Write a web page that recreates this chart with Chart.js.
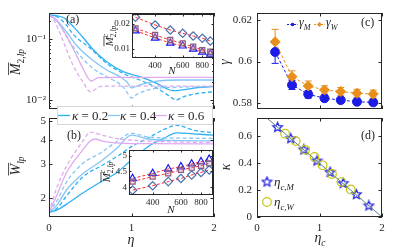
<!DOCTYPE html>
<html>
<head>
<meta charset="utf-8">
<script src="https://cdn.jsdelivr.net/npm/chart.js@4.4.1/dist/chart.umd.min.js"></script>
<style>
html,body{margin:0;padding:0;background:#fff}
#wrap{position:relative;width:415px;height:249px;overflow:hidden;background:#fff}
#wrap canvas{position:absolute;left:0;top:0}
</style>
</head>
<body>
<div id="wrap"></div>
<script>

/* ---------------- DATA ---------------- */

const kappas = ["0.2","0.4","0.6"]

// (a) M2 vs eta, solid / dashed per kappa
const a02sEta = [0,0.1,0.19,0.3,0.42,0.54,0.7,0.9,1.1,1.3,1.5,1.6,1.8,2.0]
const a02sVal = [0.254,0.245,0.224,0.16,0.105,0.067,0.043,0.0294,0.0243,0.019,0.0143,0.0146,0.016,0.0168]
const a02dEta = [0,0.1,0.2,0.3,0.5,0.7,0.94,1.1,1.3,1.45,1.54,1.62,1.8,2.0]
const a02dVal = [0.254,0.235,0.18,0.119,0.0716,0.0404,0.0259,0.0214,0.016,0.0118,0.01,0.0112,0.0128,0.0137]
const a04sEta = [0,0.09,0.21,0.33,0.5,0.7,0.86,0.95,1.0,1.1,1.3,1.6,2.0]
const a04sVal = [0.254,0.21,0.135,0.081,0.0489,0.0313,0.0243,0.0195,0.0158,0.0178,0.0205,0.0214,0.0214]
const a04dEta = [0,0.06,0.13,0.25,0.37,0.53,0.7,0.9,0.96,1.0,1.08,1.3,1.6,2.0]
const a04dVal = [0.254,0.225,0.174,0.092,0.0554,0.0334,0.0243,0.0163,0.0125,0.0108,0.0128,0.0155,0.0163,0.0166]
const a06sEta = [0,0.07,0.17,0.29,0.41,0.47,0.51,0.6,0.8,1.2,2.0]
const a06sVal = [0.254,0.224,0.144,0.0716,0.0334,0.0235,0.0206,0.0235,0.0237,0.0237,0.0237]
const a06dEta = [0,0.05,0.09,0.19,0.29,0.41,0.5,0.62,0.8,1.2,2.0]
const a06dVal = [0.254,0.22,0.174,0.081,0.0379,0.0201,0.0137,0.0166,0.017,0.017,0.017]

// (b) W vs eta
const b02sEta = [0,0.1,0.21,0.42,0.62,0.82,0.98,1.22,1.4,1.55,1.75,2.0]
const b02sVal = [1.69,1.74,1.86,2.14,2.42,2.71,3.1,3.75,4.1,4.36,4.3,4.24]
const b02dEta = [0,0.1,0.21,0.42,0.62,0.82,1.0,1.2,1.4,1.55,1.75,2.0]
const b02dVal = [1.69,1.78,2.05,2.6,2.92,3.28,3.7,4.1,4.55,4.77,4.5,4.36]
const b04sEta = [0,0.1,0.21,0.42,0.62,0.82,1.0,1.2,1.5,2.0]
const b04sVal = [1.69,1.85,2.2,2.7,3.09,3.62,4.24,4.05,3.98,3.96]
const b04dEta = [0,0.1,0.21,0.42,0.62,0.82,1.0,1.2,1.5,2.0]
const b04dVal = [1.69,1.95,2.42,3.05,3.42,3.92,4.33,4.15,4.1,4.08]
const b06sEta = [0,0.1,0.21,0.42,0.5,0.56,0.65,0.8,1.2,2.0]
const b06sVal = [1.69,2.1,2.7,3.6,3.95,4.05,3.95,3.87,3.83,3.82]
const b06dEta = [0,0.1,0.21,0.42,0.5,0.6,0.8,1.2,2.0]
const b06dVal = [1.69,2.3,2.92,4.0,4.4,4.3,4.08,3.95,3.88]

// insets: N dependence
const sizesN = [300,400,500,600,700,800,900]
const inAdiam = [0.0241,0.01946,0.01694,0.01546,0.01434,0.01346,0.01248]
const inAsq = [0.01774,0.01475,0.01284,0.01171,0.01066,0.00973,0.00928]
const inAtri = [0.0166,0.0136,0.0118,0.0109,0.01,0.0092,0.0087]
const inBtri = [4.28,4.44,4.58,4.65,4.74,4.81,4.89]
const inBsq = [4.18,4.34,4.44,4.55,4.62,4.68,4.76]
const inBdiam = [3.91,4.05,4.18,4.28,4.39,4.47,4.55]

// (c) exponents
const cEta = [0.29,0.56,0.82,1.08,1.34,1.6,1.86]
const gammaM = [0.6046,0.5887,0.5842,0.5823,0.5814,0.5806,0.5803]
const gammaMErr = [0.0055,0.0022,0.0018,0.0015,0.0013,0.0012,0.0012]
const gammaW = [0.6095,0.5927,0.5882,0.5863,0.5855,0.5847,0.5843]
const gammaWErr = [0.006,0.0028,0.0024,0.002,0.002,0.0019,0.0019]

// (d) critical points
const starEta = [0.33,0.54,0.75,0.96,1.17,1.38,1.59,1.79]
const starKappa = [0.667,0.583,0.5,0.417,0.333,0.25,0.167,0.083]
const circEta = [0.45,0.62,0.77,0.92,1.05,1.2,1.35,1.5]
const circKappa = [0.62,0.565,0.5,0.447,0.385,0.32,0.26,0.205]
const lineEta = [0,2]
const lineKappa = [0.8,0]

/* ---------------- HELPERS ---------------- */

const W = 415, H = 249
const SERIF = '"Liberation Serif", "DejaVu Serif", serif'
const INK = "#262626"
const C02 = "#2db1f2", C04 = "#86c5f7", C06 = "#dfaaf0"
const wrap = document.getElementById("wrap")

const pts = (xs, ys) => xs.map((x, i) => ({x: x, y: ys[i]}))

function ax(o){
const major = o.major, minor = o.minor || []
return {
type: o.type || "linear", min: o.min, max: o.max,
grid: {display: false, drawTicks: false}, border: {display: false},
title: {display: false},
afterBuildTicks: s => {
s.ticks = major.map(v => ({value: v})).concat(minor.map(v => ({value: v, minor: true})))
s.ticks.sort((p, q) => p.value - q.value)
},
ticks: {
display: o.labels !== false, autoSkip: false, maxRotation: 0, padding: o.pad || 3,
color: INK, font: {family: SERIF, size: o.size || 11},
callback: v => { const i = major.indexOf(v); return i < 0 ? "" : (o.fmt ? o.fmt[i] : String(v)) }
}
}
}

function decades(lo, hi){
const out = []
for(let e = -4; e < 4; e++) for(let m = 1; m < 10; m++){
const v = +(m * Math.pow(10, e)).toPrecision(3)
if(v >= lo && v <= hi) out.push(v)
}
return out
}

function frame(c, len){
const {ctx, chartArea: a} = c
const x = c.scales.x, y = c.scales.y
ctx.save()
ctx.strokeStyle = INK
ctx.lineWidth = 1
ctx.beginPath()
x.ticks.forEach(t => {
const p = Math.round(x.getPixelForValue(t.value)) + 0.5
const l = t.minor ? len * 0.55 : len
ctx.moveTo(p, a.bottom); ctx.lineTo(p, a.bottom - l)
ctx.moveTo(p, a.top); ctx.lineTo(p, a.top + l)
})
y.ticks.forEach(t => {
const p = Math.round(y.getPixelForValue(t.value)) + 0.5
const l = t.minor ? len * 0.55 : len
ctx.moveTo(a.left, p); ctx.lineTo(a.left + l, p)
ctx.moveTo(a.right, p); ctx.lineTo(a.right - l, p)
})
ctx.stroke()
ctx.strokeRect(Math.round(a.left) + 0.5, Math.round(a.top) + 0.5, Math.round(a.right - a.left) - 1, Math.round(a.bottom - a.top) - 1)
ctx.restore()
}

// math-ish text: parts = [[text, kind]], kind: i italic, r roman, s sub, u sup, k no advance
function mt(ctx, x, y, parts, size, align, bar){
const f = k => (k.includes("i") ? "italic " : "") + (k.includes("s") || k.includes("u") ? size * 0.68 : size).toFixed(1) + "px " + SERIF
let w = 0
parts.forEach(([t, k]) => { ctx.font = f(k); if(!k.includes("k")) w += ctx.measureText(t).width })
let cx = align === "center" ? x - w / 2 : align === "right" ? x - w : x
ctx.textAlign = "left"
ctx.textBaseline = "alphabetic"
let barEnd = null
const x0 = cx
parts.forEach(([t, k], i) => {
ctx.font = f(k)
const dy = k.includes("s") ? size * 0.3 : k.includes("u") ? -size * 0.42 : 0
ctx.fillText(t, cx, y + dy)
if(!k.includes("k")) cx += ctx.measureText(t).width
if(i === 0) barEnd = cx
})
if(bar){
ctx.save(); ctx.strokeStyle = ctx.fillStyle; ctx.lineWidth = 0.8
ctx.beginPath(); ctx.moveTo(x0, y - size * 0.82); ctx.lineTo(barEnd + 1, y - size * 0.82); ctx.stroke()
ctx.restore()
}
}

function rot(ctx, x, y, fn){
ctx.save(); ctx.translate(x, y); ctx.rotate(-Math.PI / 2); fn(); ctx.restore()
}

function starImg(r, col){
const s = Math.ceil(2 * r + 3)
const cv = document.createElement("canvas")
cv.width = cv.height = s
const g = cv.getContext("2d")
g.strokeStyle = col; g.lineWidth = 1.2
g.beginPath()
for(let k = 0; k < 10; k++){
const a = -Math.PI / 2 + k * Math.PI / 5
const rr = k % 2 ? r * 0.45 : r
g.lineTo(s / 2 + rr * Math.cos(a), s / 2 + rr * Math.sin(a))
}
g.closePath(); g.stroke()
return cv
}

function panel(box, xs, ys, datasets, draw, before, len){
const cv = document.createElement("canvas")
cv.width = W; cv.height = H
wrap.appendChild(cv)
xs.afterFit = s => { s.height = H - box.b }
ys.afterFit = s => { s.width = box.l }
return new Chart(cv, {
type: "scatter",
data: {datasets: datasets},
options: {
responsive: false, animation: false, devicePixelRatio: 1,
layout: {padding: {left: 0, top: box.t, right: W - box.r, bottom: 0}},
plugins: {legend: {display: false}, tooltip: {enabled: false}},
scales: {x: xs, y: ys}
},
plugins: [{
id: "box",
beforeDatasetsDraw: c => { if(before) before(c.ctx, c) },
afterDraw: c => { frame(c, len || 3.5); if(draw){ c.ctx.save(); c.ctx.fillStyle = INK; draw(c.ctx, c); c.ctx.restore() } }
}]
})
}

const curve = (xs, ys, col, dash) => ({
data: pts(xs, ys), showLine: true, borderColor: col, borderWidth: 1.3,
borderDash: dash ? [4, 2.5] : [], pointRadius: 0, cubicInterpolationMode: "monotone"
})

const marks = (xs, ys, style, col, fillCol, r) => ({
data: pts(xs, ys), showLine: true, borderColor: "#ff2a2a", borderWidth: 1, borderDash: [3, 2],
pointStyle: style, pointRadius: r, pointBorderColor: col, pointBackgroundColor: fillCol, pointBorderWidth: 1.2
})

/* ---------------- PANEL (a) ---------------- */

panel({l: 49, r: 214, t: 13, b: 109},
ax({min: 0, max: 2, major: [0, 1, 2], labels: false}),
ax({type: "logarithmic", min: 0.0071, max: 0.274, major: [0.01, 0.1], fmt: ["10\u207B\u00B2", "10\u207B\u00B9"],
minor: decades(0.0071, 0.274).filter(v => v !== 0.01 && v !== 0.1)}),
[
curve(a06dEta, a06dVal, C06, true), curve(a06sEta, a06sVal, C06, false),
curve(a04dEta, a04dVal, C04, true), curve(a04sEta, a04sVal, C04, false),
curve(a02dEta, a02dVal, C02, true), curve(a02sEta, a02sVal, C02, false)
],
ctx => {
mt(ctx, 66, 23, [["(a)", "r"]], 12)
rot(ctx, 20, 62, () => mt(ctx, 0, 0, [["M", "i"], ["2,", "rs"], ["lp", "is"]], 14, "center", true))
})

/* ---------------- PANEL (b) ---------------- */

panel({l: 49, r: 214, t: 118, b: 217},
ax({min: 0, max: 2, major: [0, 1, 2], pad: 5}),
ax({type: "logarithmic", min: 1.62, max: 5.2, major: [2, 3, 4, 5]}),
[
curve(b06dEta, b06dVal, C06, true), curve(b06sEta, b06sVal, C06, false),
curve(b04dEta, b04dVal, C04, true), curve(b04sEta, b04sVal, C04, false),
curve(b02dEta, b02dVal, C02, true), curve(b02sEta, b02sVal, C02, false)
],
ctx => {
mt(ctx, 67, 139, [["(b)", "r"]], 12)
rot(ctx, 20, 166, () => mt(ctx, 0, 0, [["W", "i"], ["lp", "is"]], 14, "center", true))
mt(ctx, 131, 244, [["\u03B7", "i"]], 14, "center")
// legend of (a) sits across the gap
ctx.fillStyle = "#fff"
ctx.fillRect(57, 106, 155, 18)
ctx.strokeStyle = "#d6d6d6"; ctx.lineWidth = 1
ctx.strokeRect(57.5, 106.5, 155, 18)
const lx = [58, 108, 155], tx = [72, 120, 168], cols = [C02, C04, C06]
kappas.forEach((k, i) => {
ctx.strokeStyle = cols[i]; ctx.lineWidth = 1.3
ctx.beginPath(); ctx.moveTo(lx[i], 115.5); ctx.lineTo(lx[i] + 12, 115.5); ctx.stroke()
ctx.fillStyle = INK
mt(ctx, tx[i], 119.5, [["\u03BA", "i"], [" = " + k, "r"]], 13)
})
})

/* ---------------- PANEL (c) ---------------- */

const BLUE = "#1c1ce6", ORANGE = "#e98e1a"

function errBars(ctx, c){
const x = c.scales.x, y = c.scales.y
;[[gammaW, gammaWErr, ORANGE], [gammaM, gammaMErr, BLUE]].forEach(([vals, errs, col]) => {
ctx.save(); ctx.strokeStyle = col; ctx.lineWidth = 1
ctx.beginPath()
vals.forEach((v, i) => {
const px = x.getPixelForValue(cEta[i])
const p1 = y.getPixelForValue(v + errs[i]), p2 = y.getPixelForValue(v - errs[i])
ctx.moveTo(px, p1); ctx.lineTo(px, p2)
ctx.moveTo(px - 3.5, p1); ctx.lineTo(px + 3.5, p1)
ctx.moveTo(px - 3.5, p2); ctx.lineTo(px + 3.5, p2)
})
ctx.stroke(); ctx.restore()
})
}

panel({l: 257, r: 382, t: 13, b: 109},
ax({min: 0, max: 2, major: [0, 1, 2], labels: false}),
ax({min: 0.5771, max: 0.6234, major: [0.58, 0.6, 0.62], pad: 5}),
[
{data: pts(cEta, gammaW), showLine: true, borderColor: ORANGE, borderWidth: 1, borderDash: [3, 2],
pointStyle: "rectRot", pointRadius: 5, pointBackgroundColor: ORANGE, pointBorderColor: ORANGE},
{data: pts(cEta, gammaM), showLine: true, borderColor: BLUE, borderWidth: 1, borderDash: [3, 2],
pointStyle: "circle", pointRadius: 4.5, pointBackgroundColor: BLUE, pointBorderColor: BLUE}
],
ctx => {
mt(ctx, 361, 26, [["(c)", "r"]], 12)
rot(ctx, 229, 62, () => mt(ctx, 0, 0, [["\u03B3", "i"]], 14, "center"))
// legend
const items = [[287, BLUE, "M"], [314, ORANGE, "W"]]
items.forEach(([x0, col, sub]) => {
ctx.strokeStyle = col; ctx.fillStyle = col; ctx.lineWidth = 1
ctx.setLineDash([2, 1.5])
ctx.beginPath(); ctx.moveTo(x0, 24.5); ctx.lineTo(x0 + 11, 24.5); ctx.stroke()
ctx.setLineDash([])
ctx.beginPath()
if(sub === "M") ctx.arc(x0 + 5.5, 24.5, 1.8, 0, Math.PI * 2)
else { ctx.moveTo(x0 + 5.5, 22); ctx.lineTo(x0 + 8, 24.5); ctx.lineTo(x0 + 5.5, 27); ctx.lineTo(x0 + 3, 24.5); ctx.closePath() }
ctx.fill()
ctx.fillStyle = INK
mt(ctx, x0 + 12, 26, [["\u03B3", "i"], [sub, "is"]], 12)
})
},
errBars)

/* ---------------- PANEL (d) ---------------- */

const STAR = starImg(5, "#1f1fe0")
const OLIVE = "#c9c510"

panel({l: 257, r: 382, t: 118, b: 217},
ax({min: 0, max: 2, major: [0, 1, 2], pad: 5}),
ax({min: 0, max: 0.737, major: [0, 0.2, 0.4, 0.6], pad: 5}),
[
{data: pts(lineEta, lineKappa), showLine: true, borderColor: "#5b8474", borderWidth: 1, pointRadius: 0},
{data: pts(circEta, circKappa), pointStyle: "circle", pointRadius: 4.3, pointBorderColor: OLIVE,
pointBackgroundColor: "rgba(0,0,0,0)", pointBorderWidth: 1.2},
{data: pts(starEta, starKappa), pointStyle: STAR, pointRadius: 5}
],
ctx => {
mt(ctx, 361, 139, [["(d)", "r"]], 12)
rot(ctx, 230, 167, () => mt(ctx, 0, 0, [["\u03BA", "i"]], 14, "center"))
mt(ctx, 320, 242, [["\u03B7", "i"], ["c", "is"]], 14, "center")
ctx.drawImage(STAR, 267 - STAR.width / 2, 182 - STAR.height / 2)
ctx.strokeStyle = OLIVE; ctx.lineWidth = 1.2
ctx.beginPath(); ctx.arc(267, 202, 4.3, 0, Math.PI * 2); ctx.stroke()
ctx.fillStyle = INK
mt(ctx, 274, 186, [["\u03B7", "i"], ["c,M", "is"]], 13)
mt(ctx, 274, 206, [["\u03B7", "i"], ["c,W", "is"]], 13)
})

/* ---------------- INSETS ---------------- */

const whiteArea = (ctx, c) => {
const a = c.chartArea
ctx.save(); ctx.fillStyle = "#fff"; ctx.fillRect(a.left, a.top, a.right - a.left, a.bottom - a.top); ctx.restore()
}

const DIAM = "#4d6fae", SQ = "#8c5c7c", TRI = "#1616ee"

panel({l: 132, r: 214, t: 14, b: 58},
ax({type: "logarithmic", min: 285, max: 950, major: [400, 600, 800], minor: [300, 500, 700, 900], size: 9, pad: 2}),
ax({type: "logarithmic", min: 0.0078, max: 0.0264, major: [0.01, 0.02], minor: [0.008, 0.009], size: 9, pad: 2}),
[
marks(sizesN, inAdiam, "rectRot", DIAM, "rgba(0,0,0,0)", 4.2),
marks(sizesN, inAsq, "rect", SQ, "rgba(205,160,190,0.35)", 3.6),
marks(sizesN, inAtri, "triangle", TRI, "rgba(0,0,0,0)", 4.2)
],
ctx => {
rot(ctx, 113, 36, () => mt(ctx, 0, 0, [["M", "i"], ["c", "iuk"], ["2,", "rs"], ["lp", "is"]], 11, "center", true))
mt(ctx, 172, 74, [["N", "i"]], 11, "center")
},
whiteArea, 2.5)

panel({l: 129, r: 213, t: 150, b: 195},
ax({type: "logarithmic", min: 285, max: 950, major: [400, 600, 800], minor: [300, 500, 700, 900], size: 9, pad: 2}),
ax({min: 3.756, max: 5.18, major: [4, 4.5, 5], size: 9, pad: 2}),
[
marks(sizesN, inBdiam, "rectRot", DIAM, "rgba(0,0,0,0)", 4.2),
marks(sizesN, inBsq, "rect", SQ, "rgba(205,160,190,0.35)", 3.6),
marks(sizesN, inBtri, "triangle", TRI, "rgba(0,0,0,0)", 4.2)
],
ctx => {
rot(ctx, 110, 172, () => mt(ctx, 0, 0, [["M", "i"], ["c", "iuk"], ["2,", "rs"], ["lp", "is"]], 11, "center", true))
mt(ctx, 171, 213, [["N", "i"]], 11, "center")
},
whiteArea, 2.5)

</script>
</body>
</html>
